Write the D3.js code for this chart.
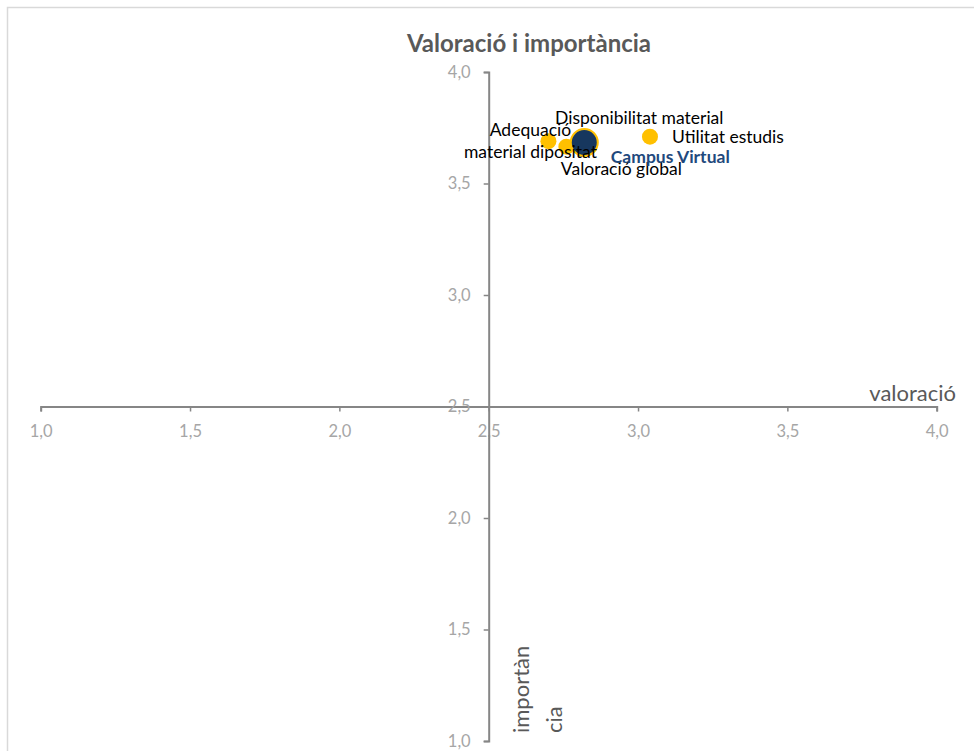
<!DOCTYPE html>
<html>
<head>
<meta charset="utf-8">
<script src="https://cdn.jsdelivr.net/npm/d3@7"></script>
<style>
  body { margin: 0; background: #fff; }
  svg { display: block; font-family: Lato, "Open Sans", sans-serif; }
</style>
</head>
<body>
<svg width="974" height="751"></svg>
<script>
// dades llegides del gràfic
let labels = ["Adequació material dipositat", "Valoració global", "Disponibilitat material", "Utilitat estudis"];
let valoracio = [2.70, 2.76, 2.83, 3.04];
let importancia = [3.69, 3.665, 3.69, 3.71];

let totalLabel = "Campus Virtual";
let totalValoracio = 2.82;
let totalImportancia = 3.684;

let ticks = [1.0, 1.5, 2.0, 2.5, 3.0, 3.5, 4.0];

// on va cada etiqueta respecte del seu punt (dx, dy)
let labelOffsets = [[-18, -5], [55, 28], [52, -17], [78, 6]];

let svg = d3.select("svg");

// vora del gràfic (retallada a dreta i a baix)
svg.append("rect")
  .attr("x", 7.5).attr("y", 7.5)
  .attr("width", 1000).attr("height", 1000)
  .attr("fill", "none")
  .attr("stroke", "#d9d9d9")
  .attr("stroke-width", 1.5);

let xScale = d3.scaleLinear().domain([1, 4]).range([40.7, 936.7]);
let yScale = d3.scaleLinear().domain([1, 4]).range([741, 72]);

let fmt = d => d3.format(".1f")(d).replace(".", ",");

// eix horitzontal creuant a 2,5
let xAxis = svg.append("g")
  .attr("transform", "translate(0," + yScale(2.5) + ")")
  .call(d3.axisBottom(xScale).tickValues(ticks).tickFormat(fmt).tickSize(5).tickPadding(14));

// eix vertical creuant a 2,5
let yAxis = svg.append("g")
  .attr("transform", "translate(" + xScale(2.5) + ",0)")
  .call(d3.axisLeft(yScale).tickValues(ticks).tickFormat(fmt).tickSize(5).tickPadding(13));

[xAxis, yAxis].forEach(function(ax) {
  ax.select(".domain").attr("stroke", "#868686").attr("stroke-width", 2);
  ax.selectAll(".tick line").attr("stroke", "#868686").attr("stroke-width", 1.5);
  ax.selectAll(".tick text")
    .attr("fill", "#a6a6a6")
    .style("font-size", "16.5px")
    .style("font-family", "Lato, sans-serif");
});

// títol
svg.append("text")
  .attr("x", 529).attr("y", 52)
  .attr("text-anchor", "middle")
  .attr("fill", "#595959")
  .style("font-size", "24px")
  .style("font-weight", "bold")
  .text("Valoració i importància");

// títols dels eixos
svg.append("text")
  .attr("x", 956).attr("y", 401)
  .attr("text-anchor", "end")
  .attr("fill", "#595959")
  .style("font-size", "22px")
  .text("valoració");

let yTitle = svg.append("text")
  .attr("transform", "translate(529,733) rotate(-90)")
  .attr("fill", "#595959")
  .style("font-size", "22px");
yTitle.append("tspan").attr("x", 0).attr("dy", 0).text("importàn");
yTitle.append("tspan").attr("x", 0).attr("dy", 33).text("cia");

// punts
let pts = labels.map((l, i) => ({ label: l, x: valoracio[i], y: importancia[i], off: labelOffsets[i] }));

svg.selectAll(".point")
  .data(pts)
  .enter()
  .append("circle")
  .attr("class", "point")
  .attr("cx", d => xScale(d.x))
  .attr("cy", d => yScale(d.y))
  .attr("r", 8)
  .style("fill", "#ffc000");

svg.append("circle")
  .attr("cx", xScale(totalValoracio))
  .attr("cy", yScale(totalImportancia))
  .attr("r", 13.5)
  .style("fill", "#17375e")
  .style("stroke", "#ffc000")
  .style("stroke-width", 2);

// etiquetes
let lbl = svg.selectAll(".lbl")
  .data(pts)
  .enter()
  .append("text")
  .attr("class", "lbl")
  .attr("text-anchor", "middle")
  .attr("fill", "#000")
  .style("font-size", "17.5px")
  .attr("transform", d => "translate(" + (xScale(d.x) + d.off[0]) + "," + (yScale(d.y) + d.off[1]) + ")");

lbl.each(function(d) {
  let t = d3.select(this);
  if (d.label === "Adequació material dipositat") {
    t.append("tspan").attr("x", 0).attr("dy", 0).text("Adequació");
    t.append("tspan").attr("x", 0).attr("dy", 22).text("material dipositat");
  } else {
    t.text(d.label);
  }
});

svg.append("text")
  .attr("x", xScale(totalValoracio) + 86)
  .attr("y", yScale(totalImportancia) + 21)
  .attr("text-anchor", "middle")
  .attr("fill", "#1f497d")
  .style("font-size", "17.5px")
  .style("font-weight", "bold")
  .text(totalLabel);
</script>
</body>
</html>
